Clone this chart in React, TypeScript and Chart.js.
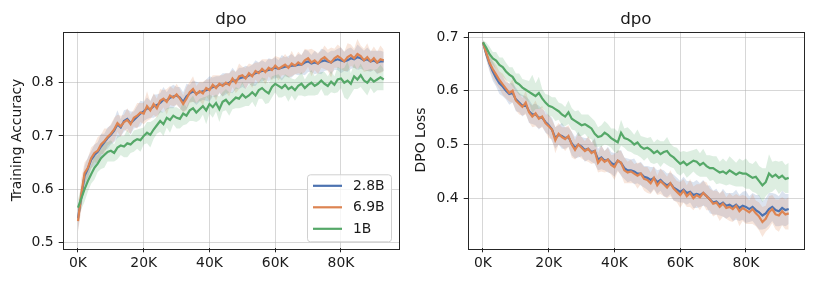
import React, { useEffect, useRef } from 'react';
import { Chart, registerables } from 'chart.js';
Chart.register(...registerables);

// ---------- data ----------
const STEPS = Array.from({ length: 94 }, (_, i) => i * 1000);
const SERIES_NAMES = ['2.8B', '6.9B', '1B'];
const COLORS = ['#4C72B0', '#DD8452', '#55A868'];
const X_TICKS = [0, 20000, 40000, 60000, 80000];
const ACC_TICKS = [0.5, 0.6, 0.7, 0.8];
const LOSS_TICKS = [0.4, 0.5, 0.6, 0.7];

const acc28 = [
  0.545, 0.585, 0.625, 0.638, 0.655, 0.664, 0.670, 0.680, 0.688, 0.696,
  0.702, 0.710, 0.722, 0.716, 0.728, 0.732, 0.724, 0.730, 0.736, 0.742,
  0.746, 0.752, 0.750, 0.756, 0.758, 0.762, 0.768, 0.766, 0.772, 0.774,
  0.776, 0.772, 0.764, 0.774, 0.780, 0.784, 0.780, 0.782, 0.784, 0.786,
  0.788, 0.792, 0.792, 0.796, 0.796, 0.798, 0.800, 0.804, 0.804, 0.808,
  0.810, 0.810, 0.814, 0.814, 0.818, 0.820, 0.822, 0.822, 0.824, 0.826,
  0.828, 0.826, 0.828, 0.830, 0.830, 0.832, 0.832, 0.834, 0.834, 0.838,
  0.840, 0.836, 0.838, 0.836, 0.840, 0.842, 0.840, 0.838, 0.842, 0.844,
  0.842, 0.840, 0.842, 0.846, 0.844, 0.848, 0.846, 0.842, 0.844, 0.840,
  0.842, 0.838, 0.840, 0.840,
];
const acc69 = [
  0.540, 0.590, 0.630, 0.640, 0.658, 0.668, 0.672, 0.684, 0.690, 0.698,
  0.704, 0.712, 0.724, 0.718, 0.726, 0.730, 0.722, 0.734, 0.738, 0.744,
  0.742, 0.756, 0.748, 0.760, 0.752, 0.766, 0.770, 0.764, 0.776, 0.772,
  0.778, 0.770, 0.760, 0.770, 0.782, 0.788, 0.778, 0.784, 0.780, 0.790,
  0.786, 0.796, 0.790, 0.798, 0.794, 0.800, 0.796, 0.808, 0.800, 0.812,
  0.814, 0.808, 0.818, 0.812, 0.822, 0.818, 0.826, 0.820, 0.828, 0.824,
  0.832, 0.826, 0.830, 0.834, 0.828, 0.836, 0.832, 0.838, 0.834, 0.842,
  0.846, 0.838, 0.842, 0.836, 0.844, 0.848, 0.842, 0.838, 0.846, 0.850,
  0.846, 0.840, 0.848, 0.852, 0.846, 0.854, 0.850, 0.842, 0.848, 0.840,
  0.846, 0.838, 0.844, 0.842,
];
const acc1 = [
  0.565, 0.582, 0.600, 0.615, 0.628, 0.640, 0.648, 0.658, 0.664, 0.670,
  0.672, 0.668, 0.678, 0.682, 0.680, 0.686, 0.684, 0.690, 0.694, 0.692,
  0.700, 0.706, 0.702, 0.712, 0.720, 0.728, 0.722, 0.734, 0.730, 0.738,
  0.734, 0.732, 0.742, 0.738, 0.748, 0.752, 0.744, 0.750, 0.756, 0.748,
  0.760, 0.754, 0.762, 0.750, 0.764, 0.768, 0.760, 0.766, 0.772, 0.770,
  0.778, 0.772, 0.776, 0.782, 0.776, 0.786, 0.790, 0.784, 0.780, 0.792,
  0.798, 0.794, 0.790, 0.796, 0.788, 0.792, 0.786, 0.794, 0.798, 0.790,
  0.796, 0.800, 0.794, 0.798, 0.804, 0.798, 0.794, 0.802, 0.796, 0.806,
  0.808, 0.800, 0.804, 0.798, 0.812, 0.806, 0.814, 0.804, 0.800, 0.808,
  0.802, 0.806, 0.810, 0.806,
];
// band half-widths (spread across seeds)
const accBand28 = [
  0.022, 0.020, 0.018, 0.022, 0.016, 0.020, 0.018, 0.024, 0.016, 0.020,
  0.018, 0.022, 0.026, 0.016, 0.020, 0.018, 0.022, 0.016, 0.020, 0.024,
  0.018, 0.020, 0.016, 0.022, 0.020, 0.018, 0.024, 0.016, 0.020, 0.022,
  0.016, 0.020, 0.018, 0.024, 0.016, 0.020, 0.022, 0.018, 0.016, 0.020,
  0.024, 0.018, 0.020, 0.016, 0.022, 0.020, 0.018, 0.024, 0.016, 0.020,
  0.018, 0.022, 0.016, 0.020, 0.024, 0.018, 0.020, 0.016, 0.022, 0.018,
  0.020, 0.016, 0.024, 0.018, 0.020, 0.022, 0.016, 0.020, 0.018, 0.024,
  0.020, 0.016, 0.022, 0.018, 0.024, 0.020, 0.016, 0.022, 0.018, 0.020,
  0.024, 0.018, 0.022, 0.020, 0.016, 0.024, 0.020, 0.018, 0.022, 0.020,
  0.018, 0.022, 0.020, 0.018,
];
const accBand69 = [
  0.020, 0.030, 0.020, 0.018, 0.020, 0.016, 0.026, 0.018, 0.024, 0.016,
  0.018, 0.022, 0.016, 0.020, 0.014, 0.022, 0.018, 0.016, 0.024, 0.018,
  0.020, 0.028, 0.016, 0.020, 0.018, 0.022, 0.016, 0.024, 0.018, 0.016,
  0.020, 0.018, 0.016, 0.022, 0.020, 0.024, 0.016, 0.018, 0.022, 0.016,
  0.020, 0.018, 0.024, 0.016, 0.020, 0.018, 0.022, 0.016, 0.020, 0.024,
  0.016, 0.020, 0.018, 0.022, 0.016, 0.020, 0.018, 0.024, 0.016, 0.020,
  0.018, 0.022, 0.016, 0.020, 0.018, 0.024, 0.016, 0.020, 0.018, 0.022,
  0.016, 0.026, 0.018, 0.020, 0.016, 0.022, 0.020, 0.028, 0.018, 0.022,
  0.020, 0.018, 0.026, 0.020, 0.018, 0.028, 0.020, 0.022, 0.026, 0.018,
  0.022, 0.020, 0.026, 0.020,
];
const accBand1 = [
  0.016, 0.020, 0.024, 0.020, 0.018, 0.022, 0.016, 0.020, 0.024, 0.018,
  0.020, 0.016, 0.022, 0.018, 0.020, 0.026, 0.016, 0.020, 0.018, 0.022,
  0.016, 0.020, 0.024, 0.018, 0.016, 0.020, 0.022, 0.018, 0.024, 0.016,
  0.020, 0.018, 0.022, 0.016, 0.020, 0.024, 0.018, 0.020, 0.016, 0.026,
  0.018, 0.020, 0.016, 0.024, 0.018, 0.020, 0.022, 0.016, 0.020, 0.018,
  0.024, 0.016, 0.020, 0.018, 0.022, 0.016, 0.020, 0.024, 0.018, 0.020,
  0.016, 0.022, 0.018, 0.020, 0.024, 0.016, 0.020, 0.018, 0.022, 0.016,
  0.020, 0.024, 0.018, 0.020, 0.016, 0.022, 0.018, 0.020, 0.016, 0.024,
  0.018, 0.028, 0.036, 0.020, 0.024, 0.018, 0.022, 0.020, 0.024, 0.018,
  0.022, 0.020, 0.024, 0.020,
];

const loss28 = [
  0.690, 0.668, 0.650, 0.636, 0.624, 0.614, 0.608, 0.600, 0.594, 0.596,
  0.584, 0.578, 0.572, 0.574, 0.562, 0.556, 0.556, 0.550, 0.550, 0.542,
  0.536, 0.528, 0.512, 0.518, 0.516, 0.512, 0.514, 0.502, 0.494, 0.500,
  0.496, 0.490, 0.492, 0.486, 0.488, 0.472, 0.476, 0.470, 0.472, 0.466,
  0.462, 0.470, 0.466, 0.456, 0.452, 0.452, 0.450, 0.446, 0.446, 0.440,
  0.438, 0.434, 0.438, 0.430, 0.434, 0.428, 0.424, 0.428, 0.420, 0.416,
  0.412, 0.416, 0.410, 0.412, 0.406, 0.408, 0.406, 0.410, 0.404, 0.398,
  0.392, 0.394, 0.388, 0.392, 0.386, 0.388, 0.384, 0.388, 0.382, 0.386,
  0.384, 0.380, 0.384, 0.378, 0.374, 0.368, 0.372, 0.380, 0.384, 0.378,
  0.376, 0.382, 0.378, 0.380,
];
const loss69 = [
  0.690, 0.670, 0.652, 0.640, 0.630, 0.620, 0.612, 0.604, 0.596, 0.600,
  0.582, 0.576, 0.570, 0.578, 0.560, 0.552, 0.558, 0.548, 0.552, 0.540,
  0.534, 0.528, 0.508, 0.520, 0.514, 0.510, 0.516, 0.500, 0.490, 0.500,
  0.494, 0.488, 0.492, 0.484, 0.488, 0.466, 0.474, 0.468, 0.472, 0.462,
  0.458, 0.470, 0.466, 0.452, 0.448, 0.450, 0.446, 0.442, 0.446, 0.436,
  0.434, 0.428, 0.438, 0.424, 0.432, 0.426, 0.420, 0.428, 0.418, 0.412,
  0.406, 0.414, 0.404, 0.410, 0.400, 0.406, 0.402, 0.410, 0.404, 0.398,
  0.390, 0.392, 0.384, 0.390, 0.382, 0.384, 0.380, 0.386, 0.376, 0.382,
  0.378, 0.374, 0.380, 0.372, 0.366, 0.356, 0.362, 0.374, 0.380, 0.370,
  0.368, 0.376, 0.370, 0.372,
];
const loss1 = [
  0.690, 0.680, 0.668, 0.660, 0.656, 0.648, 0.644, 0.636, 0.630, 0.626,
  0.616, 0.612, 0.606, 0.602, 0.598, 0.594, 0.590, 0.596, 0.586, 0.578,
  0.572, 0.570, 0.566, 0.562, 0.556, 0.552, 0.560, 0.548, 0.544, 0.540,
  0.536, 0.538, 0.534, 0.530, 0.520, 0.514, 0.516, 0.522, 0.518, 0.512,
  0.508, 0.504, 0.522, 0.512, 0.510, 0.506, 0.500, 0.504, 0.496, 0.492,
  0.494, 0.490, 0.484, 0.488, 0.482, 0.486, 0.488, 0.480, 0.476, 0.470,
  0.464, 0.468, 0.462, 0.466, 0.470, 0.468, 0.462, 0.466, 0.460, 0.456,
  0.456, 0.452, 0.448, 0.450, 0.446, 0.452, 0.448, 0.444, 0.448, 0.446,
  0.446, 0.442, 0.438, 0.440, 0.432, 0.424, 0.430, 0.446, 0.440, 0.444,
  0.438, 0.442, 0.436, 0.438,
];
const lossBand28 = [
  0.004, 0.010, 0.014, 0.018, 0.016, 0.020, 0.018, 0.016, 0.020, 0.018,
  0.022, 0.018, 0.020, 0.016, 0.022, 0.018, 0.020, 0.022, 0.016, 0.020,
  0.018, 0.022, 0.020, 0.018, 0.024, 0.020, 0.018, 0.022, 0.020, 0.024,
  0.018, 0.022, 0.020, 0.018, 0.024, 0.020, 0.022, 0.018, 0.024, 0.020,
  0.022, 0.018, 0.024, 0.020, 0.022, 0.020, 0.024, 0.018, 0.022, 0.020,
  0.022, 0.024, 0.020, 0.022, 0.020, 0.024, 0.022, 0.020, 0.024, 0.022,
  0.020, 0.024, 0.022, 0.020, 0.024, 0.026, 0.022, 0.024, 0.020, 0.026,
  0.022, 0.024, 0.020, 0.026, 0.024, 0.022, 0.026, 0.028, 0.024, 0.026,
  0.030, 0.024, 0.026, 0.028, 0.032, 0.026, 0.028, 0.030, 0.026, 0.030,
  0.028, 0.032, 0.030, 0.028,
];
const lossBand69 = [
  0.004, 0.010, 0.014, 0.016, 0.018, 0.016, 0.020, 0.018, 0.016, 0.022,
  0.018, 0.020, 0.016, 0.022, 0.018, 0.020, 0.024, 0.018, 0.020, 0.016,
  0.022, 0.018, 0.024, 0.020, 0.018, 0.022, 0.020, 0.024, 0.018, 0.022,
  0.020, 0.018, 0.024, 0.020, 0.022, 0.018, 0.024, 0.020, 0.022, 0.018,
  0.024, 0.020, 0.022, 0.024, 0.020, 0.022, 0.018, 0.024, 0.020, 0.022,
  0.024, 0.020, 0.022, 0.018, 0.024, 0.022, 0.020, 0.024, 0.022, 0.020,
  0.024, 0.022, 0.020, 0.026, 0.022, 0.020, 0.024, 0.022, 0.026, 0.020,
  0.024, 0.022, 0.026, 0.024, 0.020, 0.026, 0.024, 0.022, 0.028, 0.024,
  0.026, 0.022, 0.028, 0.024, 0.026, 0.028, 0.024, 0.030, 0.026, 0.028,
  0.030, 0.026, 0.028, 0.030,
];
const lossBand1 = [
  0.004, 0.010, 0.014, 0.012, 0.016, 0.014, 0.018, 0.016, 0.014, 0.018,
  0.016, 0.020, 0.016, 0.018, 0.020, 0.036, 0.024, 0.030, 0.018, 0.016,
  0.020, 0.018, 0.022, 0.016, 0.020, 0.018, 0.022, 0.020, 0.018, 0.024,
  0.020, 0.018, 0.022, 0.020, 0.024, 0.018, 0.020, 0.022, 0.020, 0.018,
  0.022, 0.020, 0.024, 0.018, 0.022, 0.020, 0.018, 0.024, 0.020, 0.022,
  0.018, 0.024, 0.020, 0.022, 0.024, 0.020, 0.026, 0.022, 0.020, 0.024,
  0.022, 0.020, 0.024, 0.022, 0.020, 0.024, 0.022, 0.026, 0.020, 0.024,
  0.022, 0.026, 0.020, 0.024, 0.022, 0.026, 0.024, 0.022, 0.026, 0.024,
  0.028, 0.024, 0.026, 0.030, 0.028, 0.032, 0.026, 0.036, 0.028, 0.026,
  0.030, 0.028, 0.026, 0.028,
];

// ---------- helpers ----------
const FONT = 'DejaVu Sans';
const TEXT = '#1a1a1a';

function rgba(hex: string, a: number) {
  const n = parseInt(hex.slice(1), 16);
  return `rgba(${(n >> 16) & 255},${(n >> 8) & 255},${n & 255},${a})`;
}

type PanelProps = {
  left: number;
  title: string;
  yLabel: string;
  means: number[][];
  bands: number[][];
  yMin: number;
  yMax: number;
  yTicks: number[];
  yAxisWidth: number;
  padRight: number;
  yTitlePad: number;
  legend: boolean;
};

function Panel(p: PanelProps) {
  const ref = useRef<HTMLCanvasElement>(null);
  useEffect(() => {
    const datasets: any[] = [];
    const lineOrder = [2, 1, 0];
    const bandOrder = [5, 4, 3];
    p.means.forEach((m, i) => {
      const c = COLORS[i];
      datasets.push({
        data: m.map((v, j) => ({ x: STEPS[j], y: v + p.bands[i][j] })),
        borderWidth: 0,
        pointRadius: 0,
        fill: '+1',
        backgroundColor: rgba(c, 0.2),
        borderColor: 'rgba(0,0,0,0)',
        order: bandOrder[i],
      });
      datasets.push({
        data: m.map((v, j) => ({ x: STEPS[j], y: v - p.bands[i][j] })),
        borderWidth: 0,
        pointRadius: 0,
        fill: false,
        borderColor: 'rgba(0,0,0,0)',
        order: bandOrder[i],
      });
    });
    p.means.forEach((m, i) => {
      datasets.push({
        data: m.map((v, j) => ({ x: STEPS[j], y: v })),
        borderColor: COLORS[i],
        borderWidth: 2.2,
        pointRadius: 0,
        fill: false,
        order: lineOrder[i],
      });
    });

    const decor = {
      id: 'decor',
      afterDraw(chart: any) {
        const { ctx, chartArea: a } = chart;
        ctx.save();
        ctx.strokeStyle = '#262626';
        ctx.lineWidth = 1;
        ctx.strokeRect(Math.round(a.left) + 0.5, Math.round(a.top) + 0.5, Math.round(a.right - a.left), Math.round(a.bottom - a.top));
        ctx.fillStyle = TEXT;
        ctx.font = `16.7px "${FONT}"`;
        ctx.textAlign = 'center';
        ctx.textBaseline = 'alphabetic';
        ctx.fillText(p.title, (a.left + a.right) / 2, 24);
        if (p.legend) {
          const w = 84, h = 67;
          const bx = a.right - 8 - w, by = a.bottom - 7 - h;
          ctx.beginPath();
          if (ctx.roundRect) ctx.roundRect(bx + 0.5, by + 0.5, w, h, 3);
          else ctx.rect(bx + 0.5, by + 0.5, w, h);
          ctx.fillStyle = 'rgba(255,255,255,0.8)';
          ctx.fill();
          ctx.strokeStyle = '#d0d0d0';
          ctx.lineWidth = 1;
          ctx.stroke();
          ctx.font = `13.9px "${FONT}"`;
          ctx.textAlign = 'left';
          ctx.textBaseline = 'middle';
          SERIES_NAMES.forEach((name, i) => {
            const y = by + 11.5 + i * 21.5;
            ctx.strokeStyle = COLORS[i];
            ctx.lineWidth = 2.2;
            ctx.beginPath();
            ctx.moveTo(bx + 6, y);
            ctx.lineTo(bx + 35, y);
            ctx.stroke();
            ctx.fillStyle = TEXT;
            ctx.fillText(name, bx + 46, y + 0.5);
          });
        }
        ctx.restore();
      },
    };

    const chart = new Chart(ref.current!, {
      type: 'line',
      data: { datasets },
      options: {
        animation: false,
        responsive: false,
        devicePixelRatio: 1,
        events: [],
        layout: { padding: { left: 0, right: p.padRight, top: 31.7, bottom: 0 } },
        plugins: {
          legend: { display: false },
          tooltip: { enabled: false },
          title: { display: false },
        },
        elements: { line: { tension: 0 } },
        scales: {
          x: {
            type: 'linear',
            min: -4650,
            max: 97650,
            afterBuildTicks: (s: any) => {
              s.ticks = X_TICKS.map((v) => ({ value: v }));
            },
            afterFit: (s: any) => {
              s.height = 34.7;
            },
            border: { display: false },
            grid: {
              color: 'rgba(176,176,176,0.5)',
              lineWidth: 1,
              tickLength: 4,
              tickColor: '#262626',
              tickWidth: 1,
            },
            ticks: {
              color: TEXT,
              font: { family: FONT, size: 13.9 },
              padding: 3,
              maxRotation: 0,
              callback: (v: any) => `${Math.round(v / 1000)}K`,
            },
          },
          y: {
            type: 'linear',
            min: p.yMin,
            max: p.yMax,
            afterBuildTicks: (s: any) => {
              s.ticks = p.yTicks.map((v) => ({ value: v }));
            },
            afterFit: (s: any) => {
              s.width = p.yAxisWidth;
            },
            border: { display: false },
            grid: {
              color: 'rgba(176,176,176,0.5)',
              lineWidth: 1,
              tickLength: 4,
              tickColor: '#262626',
              tickWidth: 1,
            },
            ticks: {
              color: TEXT,
              font: { family: FONT, size: 13.9 },
              padding: 5,
              callback: (v: any) => Number(v).toFixed(1),
            },
            title: {
              display: true,
              text: p.yLabel,
              color: TEXT,
              font: { family: FONT, size: 13.9 },
              padding: { top: p.yTitlePad, bottom: 0 },
            },
          },
        },
      },
      plugins: [decor],
    } as any);
    return () => chart.destroy();
  }, []);
  return (
    <canvas
      ref={ref}
      width={407}
      height={283}
      style={{ position: 'absolute', left: p.left, top: 0, width: 407, height: 283 }}
    />
  );
}

export default function App() {
  return (
    <div style={{ position: 'fixed', left: 0, top: 0, width: 814, height: 283, background: '#fff' }}>
      <Panel
        left={0}
        title="dpo"
        yLabel="Training Accuracy"
        means={[acc28, acc69, acc1]}
        bands={[accBand28, accBand69, accBand1]}
        yMin={0.4887}
        yMax={0.8959}
        yTicks={ACC_TICKS}
        yAxisWidth={62.7}
        padRight={8}
        yTitlePad={9}
        legend={true}
      />
      <Panel
        left={407}
        title="dpo"
        yLabel="DPO Loss"
        means={[loss28, loss69, loss1]}
        bands={[lossBand28, lossBand69, lossBand1]}
        yMin={0.307}
        yMax={0.7099}
        yTicks={LOSS_TICKS}
        yAxisWidth={60.7}
        padRight={10}
        yTitlePad={6.5}
        legend={false}
      />
    </div>
  );
}
